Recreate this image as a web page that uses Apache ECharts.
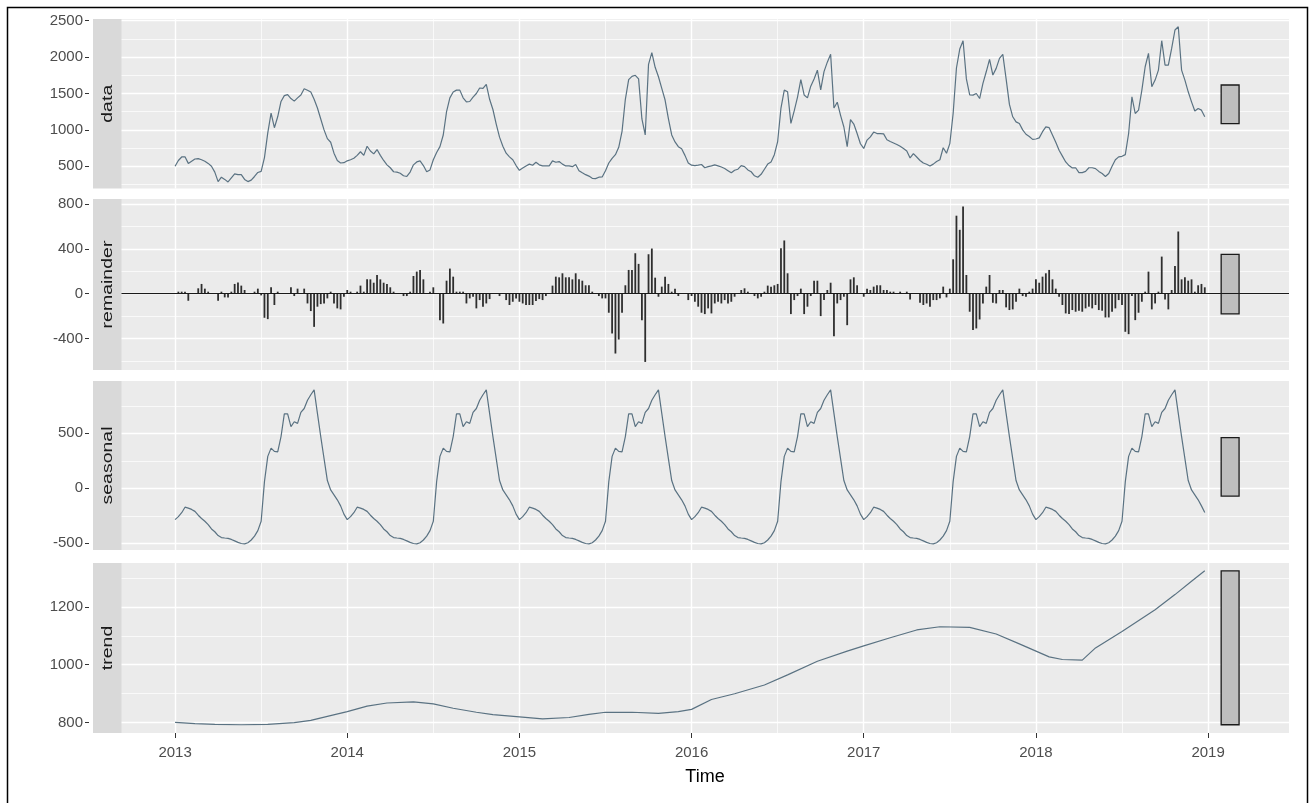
<!DOCTYPE html>
<html lang="en">
<head>
    <meta charset="UTF-8">
    <title>STL decomposition</title>
    <script src="https://cdn.jsdelivr.net/npm/echarts@6/dist/echarts.min.js"></script>
</head>
<style>
    *{
        margin: 0;
        padding: 0;
    }
    html,body{
        width: 100%;
        height: 100%;
        overflow: hidden;
        background: #fff;
    }
    .container{
        width: 1311px;
        height: 803px;
    }
</style>
<body>
<div class="container"></div>
<script>
   // weekly series, 52 obs per year, starting 2013
   const startYear = 2013;
   const perYear = 52;
   const years = [2013, 2014, 2015, 2016, 2017, 2018, 2019];

   const dataVals = [
       500,580,628,630,540,570,600,605,590,570, 540,500,420,290,350,320,285,340,395,385,
       385,320,290,310,360,415,430,620,960,1230, 1030,1180,1390,1470,1485,1430,1395,1440,1480,1565,
       1545,1520,1420,1300,1150,1000,880,830,680,580, 545,550,
       575,590,610,650,700,650,775,710,670,730, 650,580,520,480,425,420,405,370,360,420,
       520,560,575,510,425,450,590,690,770,930, 1250,1440,1520,1546,1546,1440,1385,1390,1450,1500,
       1575,1570,1625,1420,1280,1080,900,775,680,630, 590,510,
       445,475,505,530,515,555,520,505,505,505, 575,555,565,530,505,505,495,525,440,410,
       385,365,335,330,350,353,440,545,610,660, 760,980,1420,1690,1735,1750,1700,1150,930,1900,
       2060,1860,1730,1570,1410,1156,930,835,770,740, 650,545,
       515,510,515,525,480,495,505,520,505,490, 470,440,410,445,460,510,495,450,425,370,
       350,390,460,530,560,660,840,1300,1546,1523, 1090,1260,1450,1690,1480,1440,1600,1700,1820,1550,
       1800,1930,2040,1300,1380,1200,1040,770,1140,1080, 950,810,
       745,860,905,970,950,950,945,865,840,820, 800,775,745,711,615,674,628,580,545,528,
       505,530,565,590,755,680,812,1225,1850,2110, 2225,1700,1480,1477,1500,1431,1638,1798,1968,1753,
       1845,1982,2037,1700,1350,1180,1110,1087,1000,940, 910,870,
       875,890,975,1041,1030,930,830,720,640,560, 510,478,480,413,413,430,480,480,468,430,
       400,360,400,500,590,630,637,660,950,1453, 1225,1271,1546,1867,2051,1592,1684,1821,2225,1890,
       1890,2119,2372,2417,1821,1684,1523,1385,1260,1294, 1271,1179
   ];

   const remainderVals = [
       0,18,18,18,-63,0,0,48,87,45, 18,0,0,-63,18,-33,-33,18,87,100,
       72,33,0,0,18,45,-15,-215,-227,57, -101,18,0,0,0,57,-21,45,0,45,
       -87,-155,-296,-116,-93,-87,-42,18,-87,-131, -140,-27,
       33,18,0,18,72,18,128,128,98,167, 128,98,87,57,18,0,0,-21,-21,18,
       158,197,212,128,0,18,57,0,-236,-266, 116,224,152,18,18,18,-87,-42,-27,-131,
       -57,-116,-87,-48,0,0,-21,0,-57,-101, -72,-42,
       -72,-87,-101,-101,-101,-66,-48,-57,-21,0, 72,152,146,182,146,146,128,182,128,116,
       75,75,18,0,-21,-42,-42,-170,-355,-534, -409,-170,75,212,212,361,266,-236,-609,352,
       403,143,-27,63,152,87,18,45,-21,0, 0,-57,
       -21,-72,-116,-170,-182,-131,-176,-87,-72,-87, -57,-87,-72,-27,0,33,48,18,0,-21,
       -42,-27,18,72,63,75,87,406,475,182, -182,-57,-21,45,-182,-116,-21,116,116,-200,
       -57,33,98,-379,-87,-57,-27,-281,128,146, 75,0,
       -27,45,33,63,75,75,33,33,18,18, 0,18,0,18,-51,0,0,-81,-101,-87,
       -116,-57,-57,-42,63,-33,45,307,696,570, 779,167,-161,-325,-310,-230,-87,63,167,-81,
       -87,33,33,-122,-146,-140,-72,45,-21,-27, 18,45,
       128,98,152,182,212,128,45,-27,-101,-176, -182,-146,-161,-152,-161,-131,-116,-131,-101,-146,
       -152,-212,-212,-161,-131,-57,-101,-340,-361,-21, -236,-170,-72,18,197,-140,-87,18,331,-51,
       -140,33,248,555,128,146,116,128,18,75, 87,57
   ];

   const seasonalVals = [
       -285,-258,-222,-172,-180,-192,-210,-245,-275,-300,-330,-370,-395,-430,-448,-452,-455,-465,-478,-492,-502,-505,-495,-470,-435,-385,-300,60,290,365,335,330,470,676,676,560,605,590,690,725,800,850,895,680,470,270,70,-15,-60,-105,-160,-235,
       -285,-258,-222,-172,-180,-192,-210,-245,-275,-300,-330,-370,-395,-430,-448,-452,-455,-465,-478,-492,-502,-505,-495,-470,-435,-385,-300,60,290,365,335,330,470,676,676,560,605,590,690,725,800,850,895,680,470,270,70,-15,-60,-105,-160,-235,
       -285,-258,-222,-172,-180,-192,-210,-245,-275,-300,-330,-370,-395,-430,-448,-452,-455,-465,-478,-492,-502,-505,-495,-470,-435,-385,-300,60,290,365,335,330,470,676,676,560,605,590,690,725,800,850,895,680,470,270,70,-15,-60,-105,-160,-235,
       -285,-258,-222,-172,-180,-192,-210,-245,-275,-300,-330,-370,-395,-430,-448,-452,-455,-465,-478,-492,-502,-505,-495,-470,-435,-385,-300,60,290,365,335,330,470,676,676,560,605,590,690,725,800,850,895,680,470,270,70,-15,-60,-105,-160,-235,
       -285,-258,-222,-172,-180,-192,-210,-245,-275,-300,-330,-370,-395,-430,-448,-452,-455,-465,-478,-492,-502,-505,-495,-470,-435,-385,-300,60,290,365,335,330,470,676,676,560,605,590,690,725,800,850,895,680,470,270,70,-15,-60,-105,-160,-235,
       -285,-258,-222,-172,-180,-192,-210,-245,-275,-300,-330,-370,-395,-430,-448,-452,-455,-465,-478,-492,-502,-505,-495,-470,-435,-385,-300,60,290,365,335,330,470,676,676,560,605,590,690,725,800,850,895,680,470,270,70,-15,-60,-105,-160,-220
   ];

   // [week index, value]
   const trendPoints = [
       [0,801],[6,797],[12,794],[20,793],[28,794],[36,800],[41,808],[46,822],[52,838],[58,857],
       [64,868],[72,872],[78,865],[84,850],[91,836],[96,828],[104,820],[111,813],[119,818],[125,829],
       [130,836],[138,836],[146,832],[152,838],[156,846],[162,880],[169,900],[178,930],[185,965],[194,1012],
       [203,1047],[208,1065],[216,1093],[224,1120],[231,1131],[240,1129],[248,1106],[255,1072],[264,1027],[268,1018],
       [274,1016],[278,1058],[286,1115],[296,1190],[302,1242],[307,1288],[311,1324]
   ];

   const panelNames = ['data', 'remainder', 'seasonal', 'trend'];
   const yTicks = [
       [500, 1000, 1500, 2000, 2500],
       [-400, 0, 400, 800],
       [-500, 0, 500],
       [800, 1000, 1200]
   ];
   const yIntervals = [500, 400, 500, 200];
   const yRanges = [[195, 2523], [-681, 845], [-561, 975], [764.5, 1351]];

   // layout
   const panelTop = [19, 199, 381, 563];
   const panelHeight = [169.5, 171, 169, 170];
   const panelLeft = 121, panelWidth = 1168;
   const xMin = 2012.686, xMax = 2019.47;
   const barX0 = 2019.076, barX1 = 2019.18;

   const lineColor = '#5a7282';
   const font = '"Liberation Sans", Arial, sans-serif';

   const toTime = w => startYear + w / perYear;

   let container = document.querySelector('.container');
   let mycharts = echarts.init(container, null, {renderer: 'canvas'});

   // range bars: all the same length (range of the trend), centred on each panel's range
   const trendVals = trendPoints.map(p => p[1]);
   const barLen = Math.max(...trendVals) - Math.min(...trendVals);
   function rangeBar(vals) {
       let mid = (Math.max(...vals) + Math.min(...vals)) / 2;
       return {
           silent: true,
           itemStyle: {color: '#bebebe', borderColor: '#1a1a1a', borderWidth: 1.3},
           label: {show: false},
           data: [[{xAxis: barX0, yAxis: mid - barLen / 2}, {xAxis: barX1, yAxis: mid + barLen / 2}]]
       };
   }

   let grids = [], xAxes = [], yAxes = [];
   panelNames.forEach((name, i) => {
       let bottom = i === panelNames.length - 1;
       grids.push({
           left: panelLeft, top: panelTop[i], width: panelWidth, height: panelHeight[i],
           show: true, backgroundColor: '#ebebeb', borderWidth: 0,
           outerBoundsMode: 'none'
       });
       xAxes.push({
           type: 'value', gridIndex: i, min: xMin, max: xMax,
           minInterval: 1, maxInterval: 1,
           axisLine: {show: false},
           axisTick: {show: bottom, length: 5, customValues: years, lineStyle: {color: '#333', width: 1}},
           axisLabel: {
               show: bottom, customValues: years, margin: 12,
               color: '#4d4d4d', fontSize: 15, fontFamily: font,
               formatter: v => String(v)
           },
           splitLine: {show: true, lineStyle: {color: '#fff', width: 1.4}},
           minorTick: {show: false, splitNumber: 2},
           minorSplitLine: {show: true, lineStyle: {color: '#fff', width: 0.7}},
           name: bottom ? 'Time' : '',
           nameLocation: 'middle', nameGap: 35,
           nameTextStyle: {color: '#000', fontSize: 18, fontFamily: font}
       });
       yAxes.push({
           type: 'value', gridIndex: i, min: yRanges[i][0], max: yRanges[i][1],
           minInterval: yIntervals[i], maxInterval: yIntervals[i],
           offset: 32,
           axisLine: {show: false},
           axisTick: {show: true, length: 4, customValues: yTicks[i], lineStyle: {color: '#333', width: 1}},
           axisLabel: {
               customValues: yTicks[i], margin: 6,
               color: '#4d4d4d', fontSize: 15, fontFamily: font,
               formatter: v => String(v)
           },
           splitLine: {show: true, lineStyle: {color: '#fff', width: 1.4}},
           minorTick: {show: false, splitNumber: 2},
           minorSplitLine: {show: true, lineStyle: {color: '#fff', width: 0.7}}
       });
   });

   let series = [
       {
           name: 'data', type: 'line', xAxisIndex: 0, yAxisIndex: 0,
           data: dataVals.map((v, i) => [toTime(i), v]),
           showSymbol: false, lineStyle: {color: lineColor, width: 1.2},
           markArea: rangeBar(dataVals)
       },
       {
           name: 'remainder', type: 'bar', xAxisIndex: 1, yAxisIndex: 1,
           data: remainderVals.map((v, i) => [toTime(i), v]),
           barWidth: 1.8, itemStyle: {color: '#2e2e2e'},
           markLine: {
               silent: true, symbol: 'none', label: {show: false},
               lineStyle: {color: '#1a1a1a', width: 1.2, type: 'solid'},
               data: [{yAxis: 0}]
           },
           markArea: rangeBar(remainderVals)
       },
       {
           name: 'seasonal', type: 'line', xAxisIndex: 2, yAxisIndex: 2,
           data: seasonalVals.map((v, i) => [toTime(i), v]),
           showSymbol: false, lineStyle: {color: lineColor, width: 1.2},
           markArea: rangeBar(seasonalVals)
       },
       {
           name: 'trend', type: 'line', xAxisIndex: 3, yAxisIndex: 3,
           data: trendPoints.map(p => [toTime(p[0]), p[1]]),
           showSymbol: false, lineStyle: {color: lineColor, width: 1.2},
           markArea: rangeBar(trendVals)
       }
   ];

   // strips on the left of each panel + outer frame
   let graphics = [];
   panelNames.forEach((name, i) => {
       graphics.push({
           type: 'rect', z: 100,
           shape: {x: 93, y: panelTop[i], width: 28.5, height: panelHeight[i]},
           style: {fill: '#d9d9d9'}
       });
       graphics.push({
           type: 'text', z: 101,
           x: 108, y: panelTop[i] + panelHeight[i] / 2,
           rotation: Math.PI / 2, scaleX: 1.3,
           style: {
               text: name, fill: '#1a1a1a', font: '15px "Liberation Sans", Arial, sans-serif',
               align: 'center', verticalAlign: 'middle'
           }
       });
   });
   graphics.push({
       type: 'rect', z: 100,
       shape: {x: 7.5, y: 7.5, width: 1300, height: 800},
       style: {fill: null, stroke: '#000', lineWidth: 1.5}
   });

   let options = {
       animation: false,
       backgroundColor: '#fff',
       grid: grids,
       xAxis: xAxes,
       yAxis: yAxes,
       series,
       graphic: graphics
   };
   mycharts.setOption(options);
</script>

</body>
</html>
